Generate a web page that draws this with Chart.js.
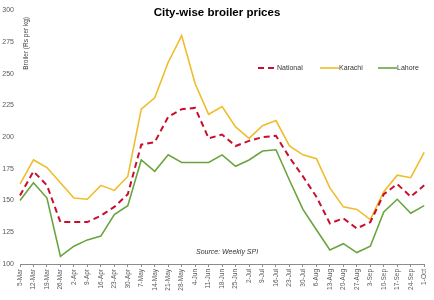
<!DOCTYPE html>
<html>
<head>
<meta charset="utf-8">
<script src="https://cdn.jsdelivr.net/npm/chart.js@4/dist/chart.umd.min.js"></script>
<style>
  html, body { margin: 0; padding: 0; background: #fff; }
  #wrap { width: 434px; height: 300px; }
</style>
</head>
<body>
<div id="wrap"><canvas id="c" width="434" height="300"></canvas></div>
<script>
// weekly dates
const weeks = ['5-Mar', '12-Mar', '19-Mar', '26-Mar', '2-Apr', '9-Apr', '16-Apr', '23-Apr', '30-Apr',
  '7-May', '14-May', '21-May', '28-May', '4-Jun', '11-Jun', '18-Jun', '25-Jun', '2-Jul', '9-Jul',
  '16-Jul', '23-Jul', '30-Jul', '6-Aug', '13-Aug', '20-Aug', '27-Aug', '3-Sep', '10-Sep', '17-Sep',
  '24-Sep', '1-Oct'];

const national = [154, 173, 162, 133, 133, 133, 138, 145, 155, 194, 196, 216, 222, 223, 199, 202,
  193, 197, 200, 201, 184, 169, 153, 132, 136, 128, 133, 155, 163, 153, 162];
const karachi = [163, 182, 176, 164, 152, 151, 162, 158, 169, 222, 231, 259, 280, 242, 218, 224,
  208, 199, 209, 213, 193, 186, 183, 160, 145, 143, 135, 157, 170, 168, 188];
const lahore = [150, 164, 152, 106, 114, 119, 122, 139, 146, 182, 173, 186, 180, 180, 180, 186,
  177, 182, 189, 190, 166, 143, 127, 111, 116, 109, 114, 141, 151, 140, 146];

const yTicks = [100, 125, 150, 175, 200, 225, 250, 275, 300];

const FONT = '"Liberation Sans", Arial, sans-serif';

// title, axis title, legend and source drawn on top of the plot
const overlay = {
  id: 'overlay',
  afterDraw(chart) {
    const ctx = chart.ctx;
    ctx.save();
    ctx.fillStyle = '#000';
    ctx.font = 'bold 11.5px ' + FONT;
    ctx.textAlign = 'center';
    ctx.textBaseline = 'middle';
    ctx.fillText('City-wise broiler prices', 217, 13);

    // y title
    ctx.save();
    ctx.translate(26, 17);
    ctx.rotate(-Math.PI / 2);
    ctx.font = '6.5px ' + FONT;
    ctx.fillStyle = '#404040';
    ctx.textAlign = 'right';
    ctx.textBaseline = 'middle';
    ctx.fillText('Broiler (Rs per kg)', 0, 0);
    ctx.restore();

    // legend
    const items = [[258, 0], [320, 1], [378, 2]];
    ctx.font = '7px ' + FONT;
    ctx.textAlign = 'left';
    ctx.textBaseline = 'middle';
    items.forEach(([x, i]) => {
      const ds = chart.data.datasets[i];
      ctx.strokeStyle = ds.borderColor;
      ctx.lineWidth = ds.borderWidth;
      ctx.setLineDash(ds.borderDash || []);
      ctx.beginPath();
      ctx.moveTo(x, 68);
      ctx.lineTo(x + 19, 68);
      ctx.stroke();
      ctx.setLineDash([]);
      ctx.fillStyle = '#333';
      ctx.fillText(ds.label, x + 19, 68);
    });

    ctx.font = 'italic 7px ' + FONT;
    ctx.fillStyle = '#333';
    ctx.fillText('Source: Weekly SPI', 196, 252);
    ctx.restore();
  }
};

new Chart(document.getElementById('c'), {
  type: 'line',
  data: {
    labels: weeks,
    datasets: [
      {
        label: 'National',
        data: national,
        borderColor: '#C8102E',
        borderWidth: 2,
        borderDash: [6, 4],
        pointRadius: 0,
        tension: 0
      },
      {
        label: 'Karachi',
        data: karachi,
        borderColor: '#EFBD2C',
        borderWidth: 1.6,
        pointRadius: 0,
        tension: 0
      },
      {
        label: 'Lahore',
        data: lahore,
        borderColor: '#6AA43F',
        borderWidth: 1.6,
        pointRadius: 0,
        tension: 0
      }
    ]
  },
  options: {
    responsive: false,
    animation: false,
    layout: { padding: { top: 10, right: 9, left: 0, bottom: 0 } },
    plugins: {
      legend: { display: false },
      title: { display: false },
      tooltip: { enabled: false }
    },
    scales: {
      x: {
        offset: false,
        grid: { display: true, drawOnChartArea: false, drawTicks: true, tickLength: 3, color: '#8c8c8c' },
        border: { display: true, color: '#8c8c8c' },
        ticks: {
          autoSkip: false,
          maxRotation: 90,
          minRotation: 90,
          padding: 2,
          color: '#595959',
          font: { family: FONT, size: 6.5 }
        },
        afterFit: s => { s.height = 36; }
      },
      y: {
        min: 100,
        max: 300,
        afterBuildTicks: s => { s.ticks = yTicks.map(v => ({ value: v })); },
        grid: { display: false, drawTicks: false },
        border: { display: false },
        ticks: {
          padding: 6,
          color: '#595959',
          font: { family: FONT, size: 7 }
        },
        afterFit: s => { s.width = 20; }
      }
    }
  },
  plugins: [overlay]
});
</script>
</body>
</html>
